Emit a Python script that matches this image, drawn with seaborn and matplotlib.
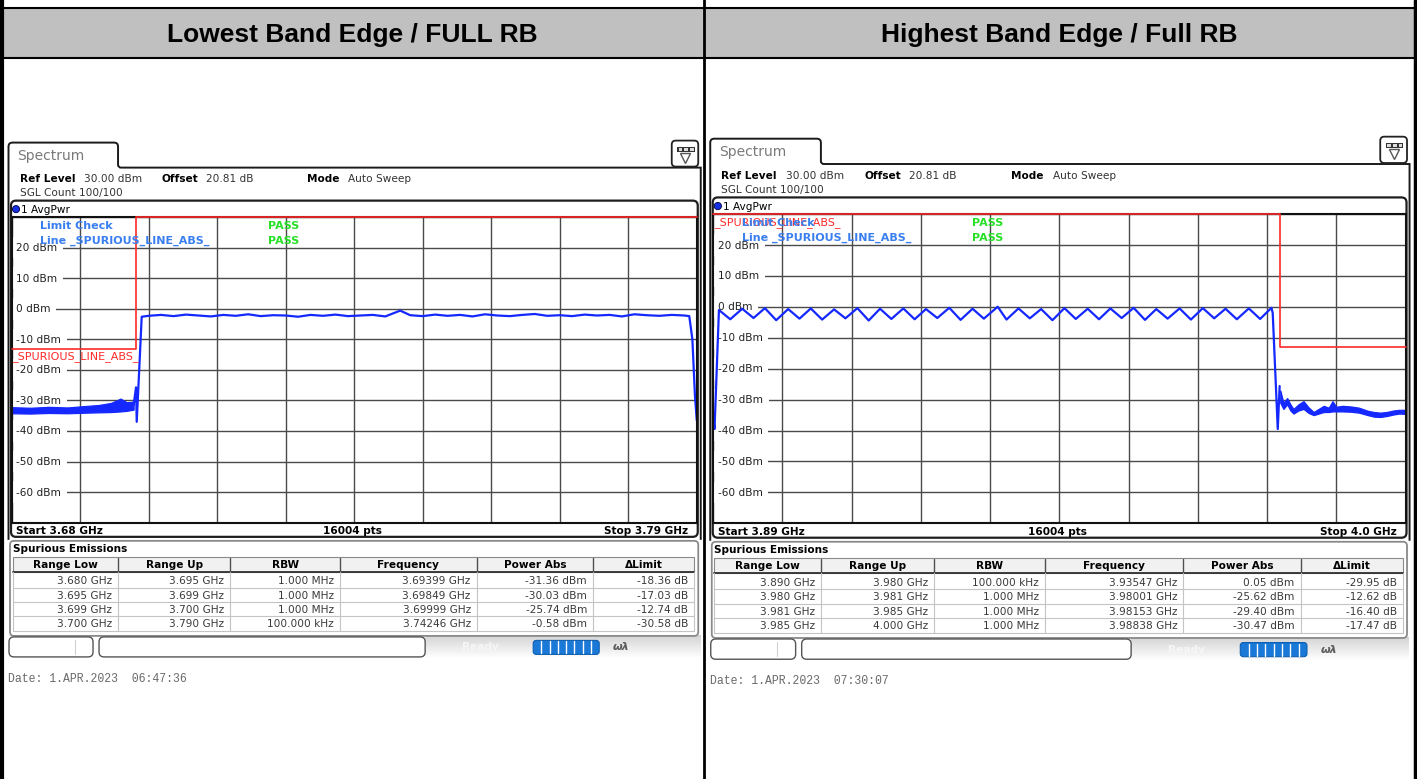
import numpy as np
import pandas as pd
import matplotlib.pyplot as plt
import seaborn as sns
from matplotlib.path import Path
from matplotlib.patches import PathPatch, FancyBboxPatch, Rectangle, Circle

W, H = 1417, 779

# ---- values ----
headers = ["Lowest Band Edge / FULL RB", "Highest Band Edge / Full RB"]
dbm_ticks = [20, 10, 0, -10, -20, -30, -40, -50, -60]
table_cols = ["Range Low", "Range Up", "RBW", "Frequency", "Power Abs", "\u0394Limit"]

# lowest band edge, 3.68 .. 3.79 GHz
low_span = [3.68, 3.79]
low_axis_text = ["Start 3.68 GHz", "16004 pts", "Stop 3.79 GHz"]
low_floor_freq = [3.6800, 3.6830, 3.6860, 3.6890, 3.6920, 3.6940, 3.6960, 3.6975, 3.6985, 3.6996]
low_floor_hi = [-32.2, -32.4, -32.1, -32.3, -31.8, -31.5, -30.8, -29.4, -30.6, -30.4]
low_floor_lo = [-34.2, -34.3, -34.1, -34.2, -34.0, -33.9, -33.8, -33.6, -33.4, -33.0]
low_trace_freq = [3.6996, 3.69999, 3.7001, 3.7005, 3.7009,
                  3.702, 3.704, 3.706, 3.708, 3.710, 3.712, 3.714, 3.716, 3.718, 3.720,
                  3.722, 3.724, 3.726, 3.728, 3.730, 3.732, 3.734, 3.736, 3.738, 3.740,
                  3.7424, 3.744, 3.746, 3.748, 3.750, 3.752, 3.754, 3.756, 3.758, 3.760,
                  3.762, 3.764, 3.766, 3.768, 3.770, 3.772, 3.774, 3.776, 3.778, 3.780,
                  3.782, 3.784, 3.786, 3.788, 3.7888, 3.7893, 3.7897, 3.7900]
low_trace_dbm = [-31.5, -25.7, -37.0, -20.0, -2.6,
                 -2.3, -2.0, -2.4, -1.9, -2.2, -2.5, -2.0, -2.3, -1.8, -2.4,
                 -2.1, -2.2, -2.6, -2.0, -2.3, -1.9, -2.4, -2.2, -2.0, -2.5,
                 -0.6, -2.1, -2.4, -1.9, -2.3, -2.0, -2.5, -1.8, -2.2, -2.4,
                 -2.0, -1.7, -2.3, -2.1, -2.4, -1.9, -2.2, -2.0, -2.5, -1.8,
                 -2.1, -2.3, -2.0, -2.2, -2.4, -10.0, -28.0, -36.5]
low_limit_freq = [3.68, 3.70, 3.70, 3.79]
low_limit_dbm = [-13, -13, 30, 30]
low_rows = [
    ["3.680 GHz", "3.695 GHz", "1.000 MHz", "3.69399 GHz", "-31.36 dBm", "-18.36 dB"],
    ["3.695 GHz", "3.699 GHz", "1.000 MHz", "3.69849 GHz", "-30.03 dBm", "-17.03 dB"],
    ["3.699 GHz", "3.700 GHz", "1.000 MHz", "3.69999 GHz", "-25.74 dBm", "-12.74 dB"],
    ["3.700 GHz", "3.790 GHz", "100.000 kHz", "3.74246 GHz", "-0.58 dBm", "-30.58 dB"],
]
low_date = "Date: 1.APR.2023  06:47:36"

# highest band edge, 3.89 .. 4.0 GHz
high_span = [3.89, 4.00]
high_axis_text = ["Start 3.89 GHz", "16004 pts", "Stop 4.0 GHz"]
high_trace_freq = [3.8900, 3.8902, 3.8907,
                   3.8909, 3.8927, 3.8946, 3.8964, 3.8982, 3.9000, 3.9019, 3.9037, 3.9055, 3.9073,
                   3.9092, 3.9110, 3.9129, 3.9147, 3.9165, 3.9183, 3.9202, 3.9220, 3.9238, 3.9256,
                   3.9275, 3.9293, 3.9312, 3.9330, 3.9352, 3.9366, 3.9385, 3.9403, 3.9421, 3.9439,
                   3.9458, 3.9476, 3.9495, 3.9513, 3.9531, 3.9549, 3.9568, 3.9586, 3.9604, 3.9622,
                   3.9641, 3.9659, 3.9678, 3.9696, 3.9714, 3.9732, 3.9751, 3.9769, 3.9787,
                   3.9789, 3.9797, 3.9800]
high_trace_dbm = [-36.0, -39.5, -12.0,
                  -1.0, -4.0, -0.6, -3.6, -0.4, -4.3, -0.7, -3.8, -0.5, -4.1,
                  -0.8, -3.7, -0.4, -4.4, -0.6, -3.9, -0.5, -4.0, -0.7, -3.6,
                  -0.3, -4.2, -0.6, -3.8, 0.05, -4.1, -0.5, -3.7, -0.7, -4.3,
                  -0.4, -3.9, -0.6, -4.0, -0.5, -3.6, -0.3, -4.2, -0.7, -3.8,
                  -0.5, -4.1, -0.4, -3.7, -0.6, -4.0, -0.5, -3.9, -0.3,
                  -2.0, -39.5, -25.6]
high_floor_freq = [3.9801, 3.9806, 3.9812, 3.9817, 3.9822, 3.9830, 3.9838, 3.9846,
                   3.9854, 3.9862, 3.9870, 3.9878, 3.9884, 3.9890, 3.9900, 3.9913,
                   3.9926, 3.9940, 3.9950, 3.9960, 3.9970, 3.9981, 3.9990, 4.0000]
high_floor_hi = [-27.0, -31.0, -29.5, -31.5, -33.0, -31.5, -30.5, -32.5,
                 -34.0, -33.0, -32.0, -32.6, -30.5, -32.3, -32.0, -32.2,
                 -32.6, -33.6, -34.0, -34.2, -34.0, -33.5, -33.3, -33.3]
high_floor_lo = [-31.0, -33.0, -31.5, -33.5, -34.5, -33.5, -33.0, -34.3,
                 -35.0, -34.5, -34.0, -34.0, -33.8, -33.8, -33.8, -33.9,
                 -34.2, -35.0, -35.5, -35.6, -35.3, -34.8, -34.5, -34.6]
high_limit_freq = [3.89, 3.98, 3.98, 4.00]
high_limit_dbm = [30, 30, -13, -13]
high_rows = [
    ["3.890 GHz", "3.980 GHz", "100.000 kHz", "3.93547 GHz", "0.05 dBm", "-29.95 dB"],
    ["3.980 GHz", "3.981 GHz", "1.000 MHz", "3.98001 GHz", "-25.62 dBm", "-12.62 dB"],
    ["3.981 GHz", "3.985 GHz", "1.000 MHz", "3.98153 GHz", "-29.40 dBm", "-16.40 dB"],
    ["3.985 GHz", "4.000 GHz", "1.000 MHz", "3.98838 GHz", "-30.47 dBm", "-17.47 dB"],
]
high_date = "Date: 1.APR.2023  07:30:07"

TRACE = "#1428ff"
LIMIT = "#ff2a2a"
INFO = "#3a7ff0"
PASS = "#26e026"
GRID = "#4a4a4a"
FS = 7.6

sns.set_style("white")
plt.rcParams["font.family"] = ["DejaVu Sans"]
plt.rcParams["text.color"] = "black"


def px_rect(x0, y0, x1, y1):
    return [x0 / W, 1 - y1 / H, (x1 - x0) / W, (y1 - y0) / H]


def frac(x, y):
    # screen pixel -> plot-area fraction
    return (x - 11.5) / 685.0, (522.8 - y) / 305.3


def draw_screen(fig, m, span, axis_text, floor, trace, limit, red_xy, rows, date):
    sx, cx, sy, cy = m
    ov = fig.add_axes(px_rect(cx, cy, cx + sx * 702, cy + sy * 779))
    ov.set_xlim(0, 702)
    ov.set_ylim(779, 0)
    ov.axis("off")
    ov.patch.set_visible(False)

    # "Spectrum" tab + top rule
    M, L, C = Path.MOVETO, Path.LINETO, Path.CURVE3
    verts = [(8.5, 540), (8.5, 147), (8.5, 143), (12.5, 143), (114, 143), (118, 143),
             (118, 147), (118, 165), (118, 168), (121, 168), (700.5, 168), (700.5, 540)]
    codes = [M, L, C, C, L, C, C, L, C, C, L, L]
    ov.add_patch(PathPatch(Path(verts, codes), fc="none", ec="#1a1a1a", lw=1.4))
    ov.text(17, 155.5, "Spectrum", fontsize=10, color="#7a7a7a", va="center")

    # menu icon
    ov.add_patch(FancyBboxPatch((671.5, 141), 26.5, 26, boxstyle="round,pad=0,rounding_size=4",
                                fc="white", ec="#222222", lw=1.3))
    ov.add_patch(Rectangle((677, 147.5), 17.5, 5, fc="#333333", ec="none"))
    for bx in [678.3, 684, 689.7]:
        ov.add_patch(Rectangle((bx, 148.6), 3.8, 2.8, fc="#dddddd", ec="none"))
    ov.plot(684.8, 158.5, marker="v", ms=7, mfc="white", mec="#555555", mew=1)

    # setting lines
    ov.text(19.5, 179, "Ref Level", fontsize=FS, fontweight="bold", va="center")
    ov.text(83.5, 179, "30.00 dBm", fontsize=FS, va="center", color="#333333")
    ov.text(161, 179, "Offset", fontsize=FS, fontweight="bold", va="center")
    ov.text(205.5, 179, "20.81 dB", fontsize=FS, va="center", color="#333333")
    ov.text(306.5, 179, "Mode", fontsize=FS, fontweight="bold", va="center")
    ov.text(348, 179, "Auto Sweep", fontsize=FS, va="center", color="#333333")
    ov.text(19.5, 193.3, "SGL Count 100/100", fontsize=FS, va="center", color="#333333")

    # graph frame
    ov.add_patch(FancyBboxPatch((11, 201), 686.5, 336, boxstyle="round,pad=0,rounding_size=5",
                                fc="white", ec="#1e1e1e", lw=1.6))
    ov.add_patch(Circle((16, 209.5), 3.6, fc="#1530e0", ec="#000040", lw=0.6))
    ov.text(21, 209.5, "1 AvgPwr", fontsize=FS, va="center")
    ov.text(16, 530.5, axis_text[0], fontsize=FS, fontweight="bold", va="center")
    ov.text(352, 530.5, axis_text[1], fontsize=FS, fontweight="bold", va="center", ha="center")
    ov.text(688, 530.5, axis_text[2], fontsize=FS, fontweight="bold", va="center", ha="right")

    # spurious emissions table
    ov.add_patch(FancyBboxPatch((10, 541), 688, 95, boxstyle="round,pad=0,rounding_size=4",
                                fc="white", ec="#8a8a8a", lw=1.3))
    ov.text(12.5, 548.5, "Spurious Emissions", fontsize=FS, fontweight="bold", va="center")
    seps = [12.5, 118.3, 230, 340, 476.7, 592.7, 694]
    ov.add_patch(Rectangle((12.5, 557), 681.5, 15, fc="#f1f1f1", ec="#8a8a8a", lw=0.8))
    ov.plot([12.5, 694], [572, 572], color="#303030", lw=1.3)
    for xs in seps[1:-1]:
        ov.plot([xs, xs], [558, 572], color="#505050", lw=1.0)
        ov.plot([xs, xs], [572, 631], color="#c4c4c4", lw=0.8)
    for ys in [588, 602.3, 616.6, 631]:
        ov.plot([12.5, 694], [ys, ys], color="#c4c4c4", lw=0.8)
    ov.plot([12.5, 12.5], [572, 631], color="#c4c4c4", lw=0.8)
    ov.plot([694, 694], [572, 631], color="#c4c4c4", lw=0.8)
    for i, name in enumerate(table_cols):
        ov.text((seps[i] + seps[i + 1]) / 2, 564.8, name, fontsize=FS, fontweight="bold",
                ha="center", va="center")
    for r, row in enumerate(rows):
        yc = [581, 595.2, 609.5, 623.8][r]
        for i, val in enumerate(row):
            ov.text(seps[i + 1] - 6, yc, val, fontsize=FS, ha="right", va="center", color="#3a3a3a")

    # status bar
    grad = np.linspace(0.83, 1.0, 24)[:, None]
    ov.imshow(grad, cmap="gray", vmin=0, vmax=1, aspect="auto",
              extent=(425, 700, 659, 636), zorder=0.5)
    ov.add_patch(FancyBboxPatch((9, 637), 84, 20, boxstyle="round,pad=0,rounding_size=5",
                                fc="white", ec="#555555", lw=1.0))
    ov.plot([75, 75], [640, 654], color="#d0d0d0", lw=0.8)
    ov.add_patch(FancyBboxPatch((99, 637), 326, 20, boxstyle="round,pad=0,rounding_size=5",
                                fc="white", ec="#555555", lw=1.0))
    ov.text(480, 647, "Ready", fontsize=FS, fontweight="bold", color="#f6f6f6", va="center", ha="center")
    ov.add_patch(FancyBboxPatch((533, 640.5), 66, 14, boxstyle="round,pad=0,rounding_size=3",
                                fc="#1a78d6", ec="#0f5fb0", lw=0.8))
    for k in range(1, 8):
        ov.plot([533 + k * 8.25] * 2, [641.5, 653.5], color="white", lw=1.0)
    ov.text(621, 647, "\u03c9\u03bb", fontsize=8, fontweight="bold", style="italic",
            color="#5a5a5a", va="center", ha="center")
    ov.text(8, 678.3, date, fontsize=8.3, family="Liberation Mono", color="#6a6a6a", va="center")

    # ---- the spectrum plot itself ----
    ax = fig.add_axes(px_rect(cx + sx * 11.5, cy + sy * 217.5, cx + sx * 696.5, cy + sy * 522.8))
    ax.set_facecolor("white")
    ax.set_xlim(span[0], span[1])
    ax.set_ylim(-70, 30)
    ax.set_xticks(np.linspace(span[0], span[1], 11))
    ax.set_yticks(np.arange(-70, 31, 10))
    ax.set_axisbelow(True)
    ax.grid(True, color=GRID, lw=1.0)
    ax.tick_params(length=0, labelbottom=False, labelleft=False)
    for sp in ax.spines.values():
        sp.set_color("#111111")
        sp.set_linewidth(1.5)
        sp.set_zorder(3.5)
    ytr = ax.get_yaxis_transform()
    lx, _ = frac(16, 0)
    for v in dbm_ticks:
        ax.text(lx, v, f"{v} dBm", transform=ytr, fontsize=FS, va="center", ha="left",
                color="#222222", zorder=2.5, clip_on=True,
                bbox=dict(boxstyle="square,pad=0.55", fc="white", ec="none"))

    ffreq, fhi, flo = floor
    ax.fill_between(ffreq, flo, fhi, color=TRACE, lw=0.9, zorder=3)
    tdf = pd.DataFrame({"freq": trace[0], "dbm": trace[1]})
    sns.lineplot(data=tdf, x="freq", y="dbm", ax=ax, sort=False, estimator=None,
                 errorbar=None, color=TRACE, lw=1.6, zorder=3)
    ldf = pd.DataFrame({"freq": limit[0], "dbm": limit[1]})
    sns.lineplot(data=ldf, x="freq", y="dbm", ax=ax, sort=False, estimator=None,
                 errorbar=None, color=LIMIT, lw=1.2, zorder=4, clip_on=False)
    ax.set_xlabel("")
    ax.set_ylabel("")

    tx, ty = frac(*red_xy)
    ax.text(tx, ty, "_SPURIOUS_LINE_ABS_", transform=ax.transAxes, fontsize=8,
            color=LIMIT, va="center", ha="left", zorder=5)
    for yy, label in [(225.5, "Limit Check"), (240.5, "Line _SPURIOUS_LINE_ABS_")]:
        a, b = frac(40, yy)
        ax.text(a, b, label, transform=ax.transAxes, fontsize=8, fontweight="bold",
                color=INFO, va="center", zorder=6)
        a, b = frac(268, yy)
        ax.text(a, b, "PASS", transform=ax.transAxes, fontsize=8, fontweight="bold",
                color=PASS, va="center", zorder=6)
    return ax


fig = plt.figure(figsize=(14.175, 7.795), dpi=100)
page = fig.add_axes([0, 0, 1, 1])
page.set_xlim(0, W)
page.set_ylim(H, 0)
page.axis("off")
page.add_patch(Rectangle((0, 8), W, 50, fc="#c0c0c0", ec="none"))
for xc, t in zip([352, 1059], headers):
    page.text(xc, 34.5, t, ha="center", va="center", fontsize=19, fontweight="bold",
              family="Liberation Sans", color="black")

draw_screen(fig, (1.0, 0.0, 1.0, 0.0), low_span, low_axis_text,
            (low_floor_freq, low_floor_hi, low_floor_lo),
            (low_trace_freq, low_trace_dbm), (low_limit_freq, low_limit_dbm),
            (12, 356.5), low_rows, low_date)
draw_screen(fig, (1.0102, 701.4, 1.0121, -5.63), high_span, high_axis_text,
            (high_floor_freq, high_floor_hi, high_floor_lo),
            (high_trace_freq, high_trace_dbm), (high_limit_freq, high_limit_dbm),
            (12, 225.5), high_rows, high_date)

# report table borders on top of everything
top = fig.add_axes([0, 0, 1, 1])
top.set_xlim(0, W)
top.set_ylim(H, 0)
top.axis("off")
top.patch.set_visible(False)
top.plot([2, 2], [0, H], color="black", lw=3)
top.plot([703.5, 703.5], [0, H], color="black", lw=2)
top.plot([1415, 1415], [0, H], color="black", lw=2.5)
top.plot([0, W], [8, 8], color="black", lw=1.5)
top.plot([0, W], [58.5, 58.5], color="black", lw=1.5)

fig.savefig("out.png", dpi=100)
